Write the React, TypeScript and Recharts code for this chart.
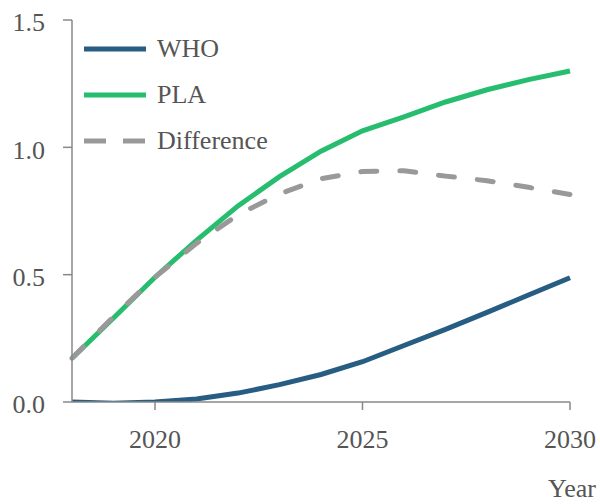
import React from "react";
import { LineChart, Line, XAxis, YAxis } from "recharts";

const years = [2018, 2019, 2020, 2021, 2022, 2023, 2024, 2025, 2026, 2027, 2028, 2029, 2030];
const who = [0.0, -0.005, 0.0, 0.012, 0.035, 0.068, 0.108, 0.158, 0.222, 0.285, 0.352, 0.42, 0.488];
const pla = [0.172, 0.33, 0.49, 0.635, 0.77, 0.885, 0.985, 1.065, 1.12, 1.178, 1.226, 1.266, 1.3];
const difference = [0.172, 0.335, 0.49, 0.623, 0.735, 0.817, 0.877, 0.905, 0.908, 0.887, 0.869, 0.843, 0.815];
const xTicks = [2020, 2025, 2030];
const yTicks = [0, 0.5, 1.0, 1.5];

const data = years.map((y, i) => ({ year: y, WHO: who[i], PLA: pla[i], Difference: difference[i] }));

const FONT = '"Liberation Serif", "Times New Roman", serif';
const TEXT = "#555555";
const AXIS = "#888888";
const C_WHO = "#275d82";
const C_PLA = "#27bd6f";
const C_DIFF = "#999999";

const legendItems = [
  { name: "WHO", color: C_WHO, dash: undefined as string | undefined },
  { name: "PLA", color: C_PLA, dash: undefined as string | undefined },
  { name: "Difference", color: C_DIFF, dash: "22 17" },
];

function LegendBox() {
  return (
    <div
      style={{
        position: "absolute",
        left: 84,
        top: 26,
        fontFamily: FONT,
        fontSize: 26,
        color: TEXT,
        pointerEvents: "none",
      }}
    >
      {legendItems.map((it) => (
        <div key={it.name} style={{ display: "flex", alignItems: "center", height: 46 }}>
          <svg width={62} height={10} style={{ marginRight: 11, display: "block" }}>
            <line x1={0} y1={5} x2={62} y2={5} stroke={it.color} strokeWidth={5} strokeDasharray={it.dash} />
          </svg>
          <span style={{ lineHeight: "26px", whiteSpace: "nowrap" }}>{it.name}</span>
        </div>
      ))}
    </div>
  );
}

export default function App() {
  return (
    <div style={{ position: "absolute", left: 0, top: 0, width: 600, height: 504, background: "#fff" }}>
      <LineChart width={600} height={504} data={data} margin={{ top: 20, right: 30, left: 0, bottom: 72 }}>
        <XAxis
          dataKey="year"
          type="number"
          domain={[2018, 2030]}
          ticks={xTicks}
          height={30}
          stroke={AXIS}
          strokeWidth={1.5}
          tickSize={8}
          tickMargin={20}
          tick={{ fill: TEXT, fontSize: 26, fontFamily: FONT }}
          label={{
            content: () => (
              <text x={596} y={497} textAnchor="end" fill={TEXT} fontSize={26} fontFamily={FONT}>
                Year
              </text>
            ),
          }}
        />
        <YAxis
          type="number"
          domain={[0, 1.5]}
          ticks={yTicks}
          width={72}
          stroke={AXIS}
          strokeWidth={1.5}
          tickSize={9}
          tickMargin={18}
          tickFormatter={(v: number) => v.toFixed(1)}
          tick={{ fill: TEXT, fontSize: 26, fontFamily: FONT, dy: 2 }}
          allowDataOverflow
        />
        <Line type="linear" dataKey="WHO" stroke={C_WHO} strokeWidth={5} dot={false} isAnimationActive={false} />
        <Line type="linear" dataKey="PLA" stroke={C_PLA} strokeWidth={5} dot={false} isAnimationActive={false} />
        <Line
          type="linear"
          dataKey="Difference"
          stroke={C_DIFF}
          strokeWidth={5}
          strokeDasharray="16 23"
          strokeLinecap="round"
          dot={false}
          isAnimationActive={false}
        />
      </LineChart>
      <LegendBox />
    </div>
  );
}
